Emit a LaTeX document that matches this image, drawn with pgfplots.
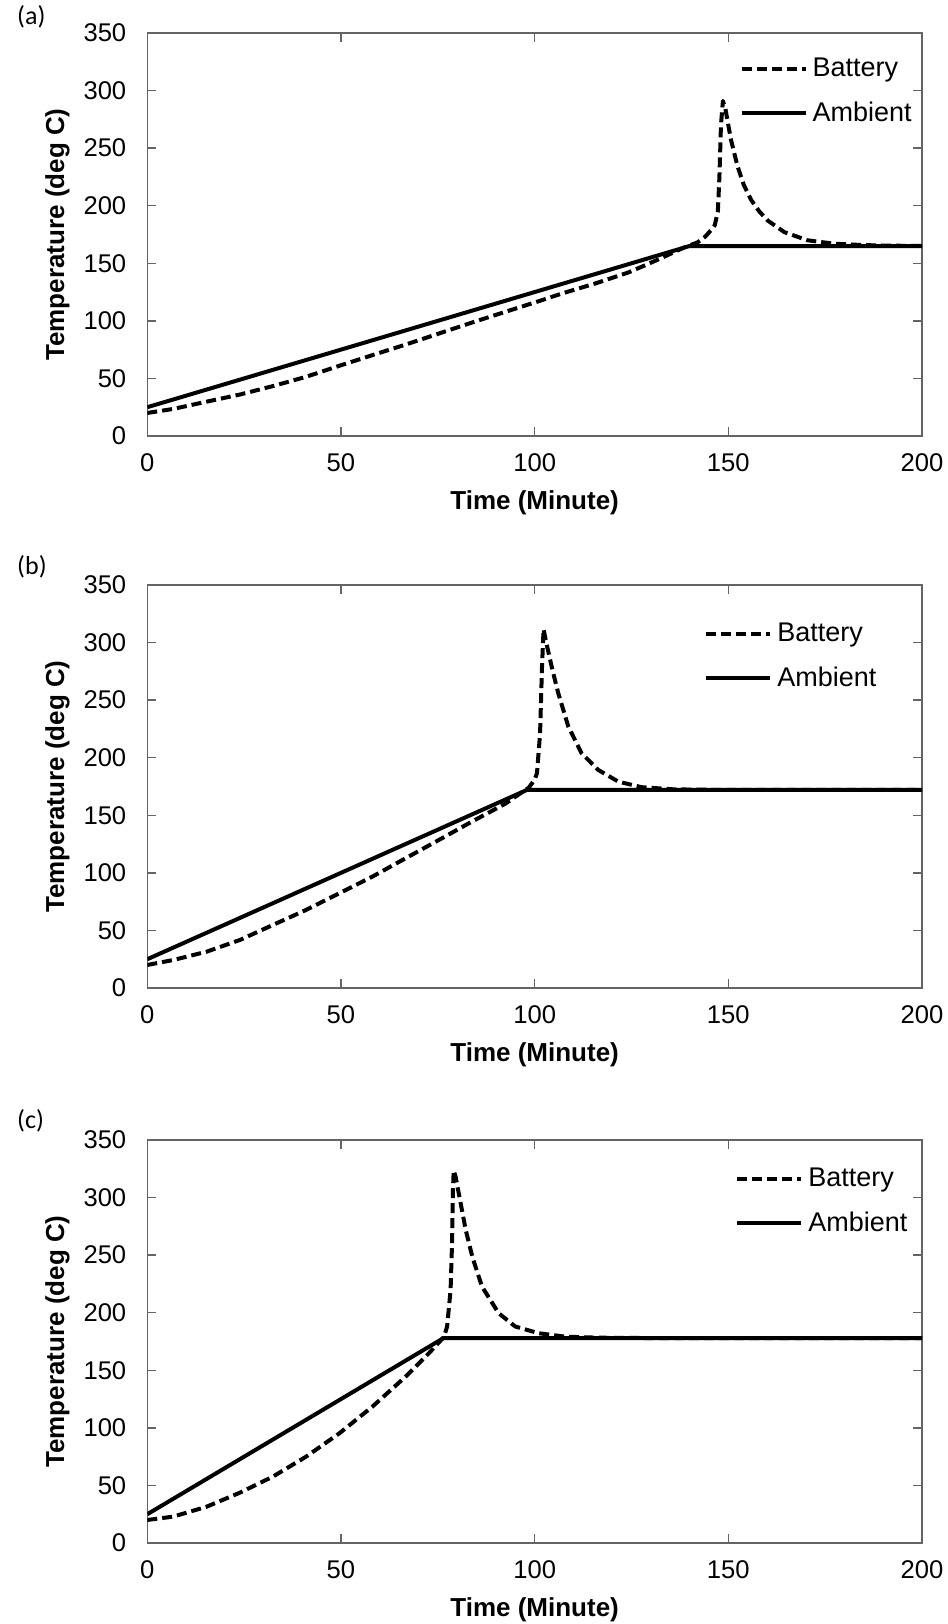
\documentclass[border=0pt]{standalone}
\usepackage{fontspec}
\setmainfont{Liberation Sans}
\newfontfamily\carlito{Carlito}
\usepackage{pgfplots}
\pgfplotsset{compat=1.18}
\definecolor{axgray}{RGB}{100,100,100}
\tikzset{
 batt/.style={black, line width=2pt, dash pattern=on 5pt off 2.5pt, line join=round},
 amb/.style={black, line width=2pt, line join=round},
 plabel/.style={anchor=west, font=\carlito\fontsize{13}{15}\selectfont},
}
\pgfplotsset{
 panel/.style={
  scale only axis, width=387.35pt, height=201.5pt,
  anchor=south west,
  xmin=0,xmax=200,ymin=0,ymax=350,
  xtick={0,50,...,200}, ytick={0,50,...,350},
  tick align=inside, major tick length=4.5pt,
  axis line style={axgray, line width=0.75pt},
  tick style={axgray, line width=0.75pt},
  /pgf/number format/assume math mode=true,
  tick label style={font=\fontsize{12.8}{15}\selectfont},
  yticklabel style={xshift=-7pt},
  xticklabel style={yshift=-5.5pt},
  xlabel={Time (Minute)}, ylabel={Temperature (deg C)},
  label style={font=\fontsize{13}{15}\selectfont\bfseries},
  x label style={at={(axis description cs:0.5,-0.166)},anchor=center},
  y label style={at={(axis description cs:-0.116,0.5)},anchor=center},
  legend cell align=left,
  legend image code/.code={\draw[##1] (0pt,0pt) -- (32pt,0pt);},
  legend style={draw=none, fill=none, font=\fontsize{13.5}{16}\selectfont, anchor=north west, inner sep=0pt, row sep=2pt, nodes={inner xsep=2.5pt, inner ysep=4.5pt}},
  clip mode=individual,
 },
}
\begin{document}
\begin{tikzpicture}
\useasboundingbox (0,0) rectangle (474pt,812pt);
% ---------------- (a)
\begin{axis}[panel, at={(73.65pt,594pt)},
  legend style={at={(axis description cs:0.764,0.961)}}]
\addplot[batt] coordinates {
(0,20) (6.7,23.5) (15.3,29.8) (23.9,36) (32.4,43.3) (41,51.4) (49.6,61)
(58.1,70.2) (66.7,79.4) (75.3,89) (83.8,98.5) (92.4,107.8) (101,117)
(107,123.7) (115.6,132.4) (124.2,142) (128,147.5) (132.7,154.5) (137,161.3) (139.5,165)
(142,168) (144,173) (145.6,179) (146.5,183) (147.3,195) (147.7,225)
(148.1,270) (148.6,291) (149.2,285) (150,270) (150.7,257) (152.4,234)
(154,218) (155.9,205) (158,195) (160.2,187) (164.5,177) (170.4,170)
(177.3,167) (185,165.8) (190,165.4) (200,165)
};
\addlegendentry{Battery}
\addplot[amb] coordinates {(0,25) (140,165) (200,165)};
\addlegendentry{Ambient}
\node[plabel] at (axis description cs:-0.177,1.041) {(a)};
\end{axis}
% ---------------- (b)
\begin{axis}[panel, at={(73.65pt,318pt)},
  legend style={at={(axis description cs:0.7186,0.929)}}]
\addplot[batt] coordinates {
(0,20) (6.7,24.3) (15.3,31.5) (23.9,41.7) (32.4,54.7) (41,67.8) (49.6,82.3)
(58.1,96.7) (66.7,112.7) (75.3,128.6) (83.8,144.5) (92.4,160) (96.7,170)
(98.5,174) (100,181) (100.6,186.5) (101.4,221) (101.9,279) (102.3,311.6)
(103,300) (104.4,279) (106.1,256) (108.7,227) (112.1,204) (116.4,189.4)
(121.6,179.2) (127.6,174.4) (136,172.5) (150,172) (200,172)
};
\addlegendentry{Battery}
\addplot[amb] coordinates {(0,25) (98,172) (200,172)};
\addlegendentry{Ambient}
\node[plabel] at (axis description cs:-0.177,1.046) {(b)};
\end{axis}
% ---------------- (c)
\begin{axis}[panel, at={(73.65pt,40.5pt)},
  legend style={at={(axis description cs:0.7586,0.953)}}]
\addplot[batt] coordinates {
(0,20) (6.7,22.9) (15.3,31.5) (23.9,43.7) (32.4,57.6) (41,75) (49.6,95.3)
(58.1,118.4) (66.7,144.5) (72.7,164.8) (75.5,175) (76.6,179) (77.4,188)
(78.3,219.8) (78.7,263) (78.9,306) (79.1,323.5) (79.6,318) (80.4,303.8)
(82.2,272) (83.9,248.7) (86.4,222.7) (90.7,199.6) (95,188) (101,182.2)
(107.9,179.2) (116.5,178.3) (130,178) (200,178)
};
\addlegendentry{Battery}
\addplot[amb] coordinates {(0,25) (76.5,178) (200,178)};
\addlegendentry{Ambient}
\node[plabel] at (axis description cs:-0.177,1.047) {(c)};
\end{axis}
\end{tikzpicture}
\end{document}
